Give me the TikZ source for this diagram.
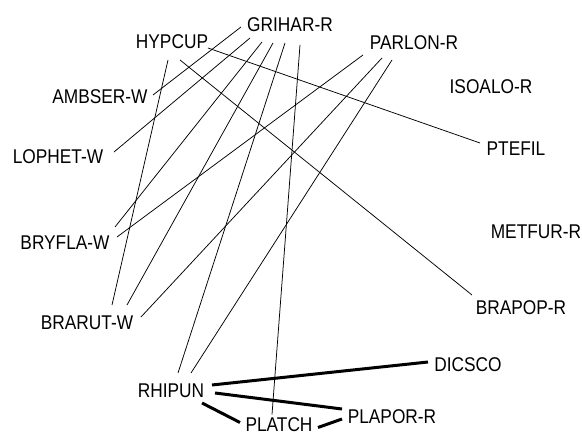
\documentclass[tikz,border=0pt]{standalone}
\usepackage{fontspec}
\usepackage{graphicx}
\setmainfont{Liberation Sans}
\newcommand\tallword[1]{\scalebox{1}[1.15]{#1}}
\begin{document}
\begin{tikzpicture}[x=1pt,y=-1pt,
  lbl/.style={inner sep=0pt,anchor=center,font=\fontsize{17.3}{20}\selectfont},
  weak/.style={line width=0.75pt},
  strong/.style={line width=3pt}]
\useasboundingbox[fill=white] (0,0) rectangle (582,435);
\node[lbl] (GRI) at (290,24.5) {\tallword{GRIHAR-R}};
\node[lbl] (HYP) at (172,42) {\tallword{HYPCUP}};
\node[lbl] (PAR) at (414,43) {\tallword{PARLON-R}};
\node[lbl] (ISO) at (491,87) {\tallword{ISOALO-R}};
\node[lbl] (AMB) at (100,97) {\tallword{AMBSER-W}};
\node[lbl] (LOP) at (58,157) {\tallword{LOPHET-W}};
\node[lbl] (PTE) at (516,149) {\tallword{PTEFIL}};
\node[lbl] (BRY) at (65,243) {\tallword{BRYFLA-W}};
\node[lbl] (MET) at (536,232) {\tallword{METFUR-R}};
\node[lbl] (BRA) at (87,323) {\tallword{BRARUT-W}};
\node[lbl] (BRP) at (521,308) {\tallword{BRAPOP-R}};
\node[lbl] (DIC) at (468,365) {\tallword{DICSCO}};
\node[lbl] (RHI) at (171,391) {\tallword{RHIPUN}};
\node[lbl] (PLP) at (392,417) {\tallword{PLAPOR-R}};
\node[lbl] (PLT) at (279,425) {\tallword{PLATCH}};
% thin connectors
\draw[weak] ([shift={(-49,2.5)}]GRI.center) -- ([shift={(53,-2)}]AMB.center);
\draw[weak] ([shift={(-40,13.5)}]GRI.center) -- ([shift={(56,-5)}]LOP.center);
\draw[weak] ([shift={(-28,17.5)}]GRI.center) -- ([shift={(50,-16)}]BRY.center);
\draw[weak] ([shift={(-17,18.5)}]GRI.center) -- ([shift={(40,-18)}]BRA.center);
\draw[weak] ([shift={(-5,18.5)}]GRI.center) -- ([shift={(7,-18)}]RHI.center);
\draw[weak] ([shift={(10,20.5)}]GRI.center) -- ([shift={(-7,-10.5)}]PLT.center);
\draw[weak] ([shift={(36,6)}]HYP.center) -- ([shift={(-36,-6)}]PTE.center);
\draw[weak] ([shift={(8,18)}]HYP.center) -- ([shift={(-49,-13)}]BRP.center);
\draw[weak] ([shift={(-4,18)}]HYP.center) -- ([shift={(25,-18)}]BRA.center);
\draw[weak] ([shift={(-51,12)}]PAR.center) -- ([shift={(52,-6)}]BRY.center);
\draw[weak] ([shift={(-32,15)}]PAR.center) -- ([shift={(54,-6)}]BRA.center);
\draw[weak] ([shift={(-22,17)}]PAR.center) -- ([shift={(20,-18)}]RHI.center);
% thick connectors
\draw[strong] ([shift={(41,-6)}]RHI.center) -- ([shift={(-40,-3)}]DIC.center);
\draw[strong] ([shift={(44,2)}]RHI.center) -- ([shift={(-50,-8)}]PLP.center);
\draw[strong] ([shift={(31,12)}]RHI.center) -- ([shift={(-39,-2.5)}]PLT.center);
\draw[strong] ([shift={(39,2.5)}]PLT.center) -- ([shift={(-50,2)}]PLP.center);
\end{tikzpicture}
\end{document}
